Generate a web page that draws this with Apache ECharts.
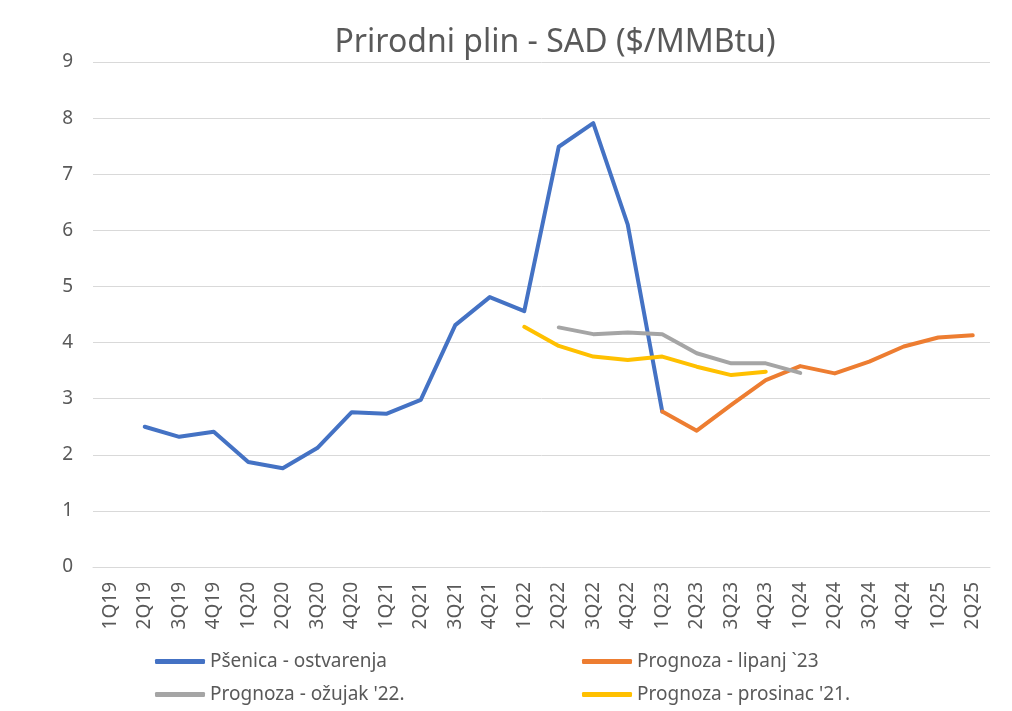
<!DOCTYPE html>
<html>
<head>
<meta charset="utf-8">
<script src="https://cdn.jsdelivr.net/npm/echarts@6/dist/echarts.min.js"></script>
<style>
  html, body { margin: 0; padding: 0; background: #fff; }
  #chart { width: 1012px; height: 711px; }
</style>
</head>
<body>
<div id="chart"></div>
<script>
// quarters 1Q19 .. 2Q25
const categories = [
  '1Q19', '2Q19', '3Q19', '4Q19',
  '1Q20', '2Q20', '3Q20', '4Q20',
  '1Q21', '2Q21', '3Q21', '4Q21',
  '1Q22', '2Q22', '3Q22', '4Q22',
  '1Q23', '2Q23', '3Q23', '4Q23',
  '1Q24', '2Q24', '3Q24', '4Q24',
  '1Q25', '2Q25'
];

const ostvarenja = [
  null, 2.50, 2.32, 2.41, 1.87, 1.76, 2.12, 2.76, 2.73, 2.98, 4.31, 4.81, 4.56,
  7.49, 7.91, 6.10, 2.77, null, null, null, null, null, null, null, null, null
];
const lipanj23 = [
  null, null, null, null, null, null, null, null, null, null, null, null, null,
  null, null, null, 2.77, 2.43, 2.89, 3.33, 3.58, 3.45, 3.66, 3.93, 4.09, 4.13
];
const ozujak22 = [
  null, null, null, null, null, null, null, null, null, null, null, null, null,
  4.27, 4.15, 4.18, 4.15, 3.81, 3.63, 3.63, 3.46, null, null, null, null, null
];
const prosinac21 = [
  null, null, null, null, null, null, null, null, null, null, null, null, 4.28,
  3.94, 3.75, 3.69, 3.75, 3.57, 3.42, 3.48, null, null, null, null, null, null
];

const seriesNames = [
  'Pšenica - ostvarenja',
  'Prognoza - lipanj `23',
  'Prognoza - ožujak \'22.',
  'Prognoza - prosinac \'21.'
];
const colors = ['#4472C4', '#ED7D31', '#A5A5A5', '#FFC000'];

const font = 'Noto Sans';
const chart = echarts.init(document.getElementById('chart'));

function lineSeries(name, data, color) {
  return {
    name: name,
    type: 'line',
    data: data,
    symbol: 'none',
    connectNulls: false,
    lineStyle: { width: 4, color: color, cap: 'round', join: 'round' },
    itemStyle: { color: color }
  };
}

function legendAt(name, left, top) {
  return {
    data: [name],
    left: left,
    top: top,
    icon: 'roundRect',
    itemWidth: 50,
    itemHeight: 5,
    textStyle: { fontFamily: font, fontSize: 19, color: '#595959' }
  };
}

chart.setOption({
  animation: false,
  color: colors,
  title: {
    text: 'Prirodni plin - SAD ($/MMBtu)',
    left: 550,
    top: 22,
    textAlign: 'center',
    textStyle: { fontFamily: font, fontSize: 32, fontWeight: 'normal', color: '#595959' }
  },
  legend: [
    legendAt(seriesNames[0], 150, 647),
    legendAt(seriesNames[1], 577, 647),
    legendAt(seriesNames[2], 150, 680),
    legendAt(seriesNames[3], 577, 680)
  ],
  grid: { left: 93, right: 22, top: 62, bottom: 144 },
  xAxis: {
    type: 'category',
    data: categories,
    boundaryGap: true,
    axisLine: { show: true, lineStyle: { color: '#d9d9d9' } },
    axisTick: { show: false },
    axisLabel: {
      rotate: 90,
      interval: 0,
      margin: 15,
      fontFamily: font,
      fontSize: 19,
      color: '#595959'
    }
  },
  yAxis: {
    type: 'value',
    min: 0,
    max: 9,
    interval: 1,
    axisLine: { show: false },
    axisTick: { show: false },
    axisLabel: { margin: 20, fontFamily: font, fontSize: 19, color: '#595959' },
    splitLine: { lineStyle: { color: '#d9d9d9', width: 1 } }
  },
  series: [
    lineSeries(seriesNames[0], ostvarenja, colors[0]),
    lineSeries(seriesNames[1], lipanj23, colors[1]),
    lineSeries(seriesNames[2], ozujak22, colors[2]),
    lineSeries(seriesNames[3], prosinac21, colors[3])
  ]
});
</script>
</body>
</html>
